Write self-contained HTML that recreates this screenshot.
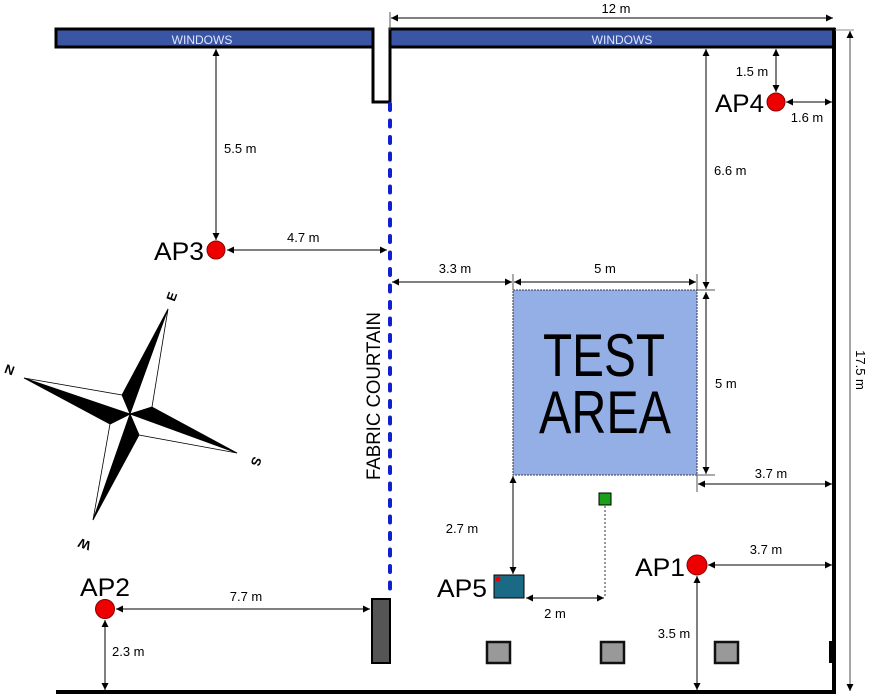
<!DOCTYPE html>
<html><head><meta charset="utf-8"><style>
html,body{margin:0;padding:0;background:#fff;}
svg{display:block;}
text{font-family:"Liberation Sans",Arial,sans-serif;}
</style></head><body>
<svg width="873" height="697" viewBox="0 0 873 697" xmlns="http://www.w3.org/2000/svg">
<defs>
<marker id="a" viewBox="0 0 10 10" refX="10" refY="5" markerWidth="7" markerHeight="7" orient="auto-start-reverse" markerUnits="userSpaceOnUse"><path d="M0,0 L10,5 L0,10 z" fill="#000"/></marker>
</defs>
<!-- windows -->
<rect x="56" y="29" width="317" height="18" fill="#3a55a4" stroke="#000" stroke-width="3"/>
<text x="202" y="44" font-size="12" fill="#dfe6ff" text-anchor="middle">WINDOWS</text>
<rect x="390" y="29" width="444" height="18" fill="#3a55a4" stroke="#000" stroke-width="3"/>
<text x="622" y="44" font-size="12" fill="#dfe6ff" text-anchor="middle">WINDOWS</text>
<!-- notch -->
<polyline points="373,47 373,102 390,102 390,47" fill="none" stroke="#000" stroke-width="3"/>
<!-- walls -->
<line x1="834" y1="28" x2="834" y2="694" stroke="#000" stroke-width="4"/>
<line x1="56" y1="692" x2="836" y2="692" stroke="#000" stroke-width="4"/>
<!-- curtain -->
<line x1="390" y1="104" x2="390" y2="596" stroke="#1020d0" stroke-width="4" stroke-dasharray="6,10.5" stroke-linecap="round"/>
<text transform="translate(380,396) rotate(-90)" font-size="19" text-anchor="middle" textLength="168" lengthAdjust="spacingAndGlyphs">FABRIC COURTAIN</text>
<rect x="372" y="599" width="18" height="64" fill="#555" stroke="#000" stroke-width="2"/>
<!-- 12 m -->
<line x1="390" y1="12" x2="390" y2="30" stroke="#555" stroke-width="1"/>
<line x1="391" y1="18" x2="833" y2="18" stroke="#000" marker-start="url(#a)" marker-end="url(#a)"/>
<text x="616" y="13" font-size="13" text-anchor="middle">12 m</text>
<!-- 17.5 -->
<line x1="835" y1="30" x2="854" y2="30" stroke="#888"/>
<line x1="850" y1="31" x2="850" y2="691" stroke="#888" stroke-width="1.5" marker-start="url(#a)" marker-end="url(#a)"/>
<text transform="translate(856,370) rotate(90)" font-size="13" text-anchor="middle">17.5 m</text>
<!-- AP3 -->
<line x1="216" y1="49" x2="216" y2="240" stroke="#000" marker-start="url(#a)" marker-end="url(#a)"/>
<text x="224" y="153" font-size="13">5.5 m</text>
<line x1="227" y1="250" x2="387" y2="250" stroke="#000" marker-start="url(#a)" marker-end="url(#a)"/>
<text x="287" y="242" font-size="13">4.7 m</text>
<circle cx="216" cy="250" r="9" fill="#e00" stroke="#800" stroke-width="1"/>
<text x="204" y="260" font-size="25" text-anchor="end" textLength="50" lengthAdjust="spacingAndGlyphs">AP3</text>
<!-- test area -->
<rect x="513" y="290" width="184" height="185" fill="#94aee6" stroke="#334" stroke-width="1" stroke-dasharray="2,1"/>
<text x="604" y="376" font-size="60" text-anchor="middle" textLength="122" lengthAdjust="spacingAndGlyphs">TEST</text>
<text x="605" y="433" font-size="60" text-anchor="middle" textLength="132" lengthAdjust="spacingAndGlyphs">AREA</text>
<line x1="513" y1="274" x2="513" y2="290" stroke="#555"/>
<line x1="697" y1="274" x2="697" y2="290" stroke="#555"/>
<line x1="392" y1="282" x2="512" y2="282" stroke="#000" marker-start="url(#a)" marker-end="url(#a)"/>
<text x="455" y="273" font-size="13" text-anchor="middle">3.3 m</text>
<line x1="514" y1="282" x2="696" y2="282" stroke="#000" marker-start="url(#a)" marker-end="url(#a)"/>
<text x="605" y="273" font-size="13" text-anchor="middle">5 m</text>
<line x1="697" y1="290" x2="715" y2="290" stroke="#555"/>
<line x1="697" y1="475" x2="715" y2="475" stroke="#555"/>
<line x1="706" y1="49" x2="706" y2="289" stroke="#000" marker-start="url(#a)" marker-end="url(#a)"/>
<text x="714" y="175" font-size="13">6.6 m</text>
<line x1="706" y1="292" x2="706" y2="474" stroke="#000" marker-start="url(#a)" marker-end="url(#a)"/>
<text x="715" y="388" font-size="13">5 m</text>
<line x1="697" y1="475" x2="697" y2="492" stroke="#555"/>
<line x1="698" y1="484" x2="832" y2="484" stroke="#000" marker-start="url(#a)" marker-end="url(#a)"/>
<text x="771" y="478" font-size="13" text-anchor="middle">3.7 m</text>
<!-- AP4 -->
<line x1="776" y1="49" x2="776" y2="92" stroke="#000" marker-start="url(#a)" marker-end="url(#a)"/>
<text x="752" y="76" font-size="13" text-anchor="middle">1.5 m</text>
<line x1="786" y1="102" x2="832" y2="102" stroke="#000" marker-start="url(#a)" marker-end="url(#a)"/>
<text x="807" y="122" font-size="13" text-anchor="middle">1.6 m</text>
<circle cx="776" cy="102" r="9" fill="#e00" stroke="#800"/>
<text x="764" y="112" font-size="25" text-anchor="end" textLength="49" lengthAdjust="spacingAndGlyphs">AP4</text>
<!-- green + AP5 -->
<rect x="599" y="493" width="12" height="12" fill="#1aa01a" stroke="#000"/>
<line x1="605" y1="506" x2="605" y2="597" stroke="#333" stroke-dasharray="2,2"/>
<line x1="513" y1="476" x2="513" y2="574" stroke="#000" marker-start="url(#a)" marker-end="url(#a)"/>
<text x="462" y="533" font-size="13" text-anchor="middle">2.7 m</text>
<rect x="494" y="575" width="30" height="23" fill="#1a6a86" stroke="#000"/>
<circle cx="498" cy="579" r="2.5" fill="#e00"/>
<line x1="526" y1="598" x2="604" y2="598" stroke="#000" marker-start="url(#a)" marker-end="url(#a)"/>
<text x="555" y="618" font-size="13" text-anchor="middle">2 m</text>
<text x="487" y="597" font-size="25" text-anchor="end" textLength="50" lengthAdjust="spacingAndGlyphs">AP5</text>
<!-- AP1 -->
<line x1="708" y1="565" x2="832" y2="565" stroke="#000" marker-start="url(#a)" marker-end="url(#a)"/>
<text x="766" y="554" font-size="13" text-anchor="middle">3.7 m</text>
<line x1="697" y1="576" x2="697" y2="690" stroke="#000" marker-start="url(#a)" marker-end="url(#a)"/>
<text x="674" y="638" font-size="13" text-anchor="middle">3.5 m</text>
<circle cx="697" cy="565" r="10" fill="#e00" stroke="#800"/>
<text x="685" y="576" font-size="25" text-anchor="end" textLength="50" lengthAdjust="spacingAndGlyphs">AP1</text>
<!-- pillars -->
<rect x="487" y="642" width="23" height="21" fill="#999" stroke="#111" stroke-width="2.5"/>
<rect x="601" y="642" width="23" height="21" fill="#999" stroke="#111" stroke-width="2.5"/>
<rect x="715" y="642" width="23" height="21" fill="#999" stroke="#111" stroke-width="2.5"/>
<rect x="829" y="641" width="5" height="22" fill="#000"/>
<!-- AP2 -->
<line x1="116" y1="609" x2="370" y2="609" stroke="#000" marker-start="url(#a)" marker-end="url(#a)"/>
<text x="246" y="601" font-size="13" text-anchor="middle">7.7 m</text>
<line x1="105" y1="620" x2="105" y2="690" stroke="#000" marker-start="url(#a)" marker-end="url(#a)"/>
<text x="112" y="656" font-size="13">2.3 m</text>
<circle cx="105" cy="609" r="9.5" fill="#e00" stroke="#800"/>
<text x="105" y="596" font-size="25" text-anchor="middle" textLength="50" lengthAdjust="spacingAndGlyphs">AP2</text>
<!-- compass -->
<g stroke="#000" stroke-width="0.8" stroke-linejoin="miter">
<polygon points="168,309 130,414 122,395" fill="#000"/>
<polygon points="168,309 130,414 152,407" fill="#fff"/>
<polygon points="237,453 130,414 152,407" fill="#000"/>
<polygon points="237,453 130,414 139,435" fill="#fff"/>
<polygon points="93,520 130,414 139,435" fill="#000"/>
<polygon points="93,520 130,414 110,424" fill="#fff"/>
<polygon points="24,378 130,414 110,424" fill="#000"/>
<polygon points="24,378 130,414 122,395" fill="#fff"/>
</g>
<text transform="translate(176,298) rotate(-70)" font-size="13" font-weight="bold" text-anchor="middle">E</text>
<text transform="translate(8,374) rotate(20)" font-size="13" font-weight="bold" text-anchor="middle">N</text>
<text transform="translate(252,460) rotate(110)" font-size="13" font-weight="bold" text-anchor="middle">S</text>
<text transform="translate(86,540) rotate(200)" font-size="13" font-weight="bold" text-anchor="middle">W</text>
</svg>
</body></html>
